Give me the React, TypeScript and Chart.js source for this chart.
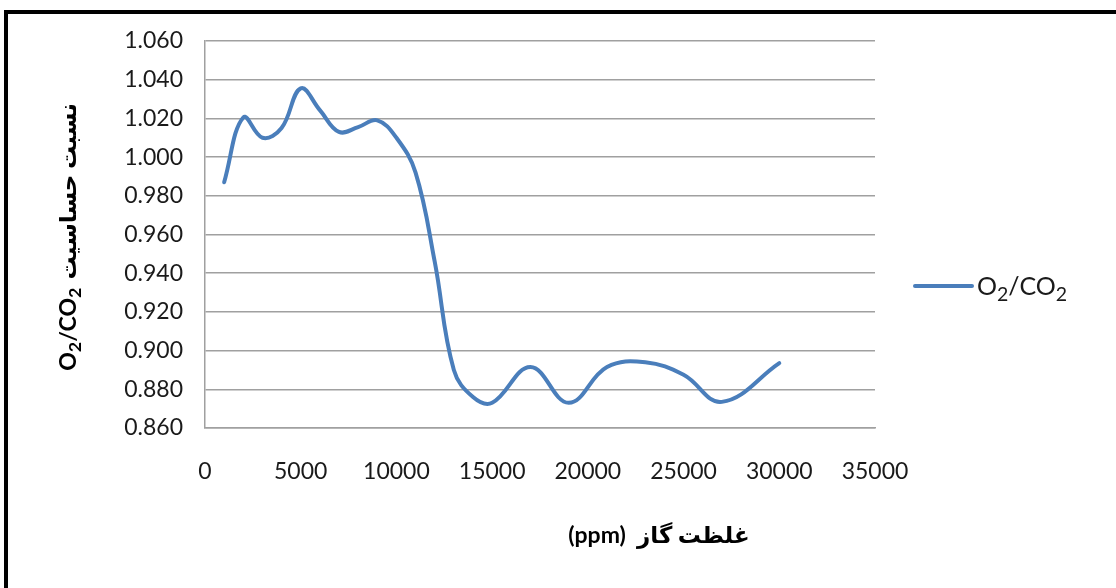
import React, { useEffect, useRef } from "react";
import { Chart, registerables } from "chart.js";

Chart.register(...registerables);

const xValues = [1000, 2000, 3000, 4000, 5000, 6000, 7000, 8000, 9000, 10000, 11000, 12000, 13000, 14000, 15000, 17000, 19000, 21000, 23000, 25000, 27000, 30000];
const yValues = [0.987, 1.0205, 1.010, 1.015, 1.0355, 1.0243, 1.013, 1.0155, 1.019, 1.010, 0.992, 0.946, 0.890, 0.876, 0.873, 0.8915, 0.873, 0.8915, 0.894, 0.8875, 0.8735, 0.8935];
const seriesName = [{ t: "O" }, { t: "2", sub: true }, { t: "/CO" }, { t: "2", sub: true }];
const yTitlePersian = "نسبت حساسیت";
const xTitleText = "(ppm)  غلظت گاز";

const FONT = "Lato, 'DejaVu Sans', sans-serif";

type Seg = { t: string; sub?: boolean };

function richWidth(ctx: CanvasRenderingContext2D, segs: Seg[], size: number, weight: string) {
  let w = 0;
  for (const s of segs) {
    ctx.font = `${weight} ${s.sub ? size * 0.78 : size}px ${FONT}`;
    w += ctx.measureText(s.t).width;
  }
  return w;
}

function drawRich(ctx: CanvasRenderingContext2D, segs: Seg[], x: number, y: number, size: number, weight: string) {
  let cx = x;
  ctx.textAlign = "left";
  ctx.textBaseline = "alphabetic";
  for (const s of segs) {
    ctx.font = `${weight} ${s.sub ? size * 0.78 : size}px ${FONT}`;
    ctx.fillText(s.t, cx, s.sub ? y + size * 0.22 : y);
    cx += ctx.measureText(s.t).width;
  }
  return cx;
}

const decorPlugin = {
  id: "decor",
  afterDraw(chart: any) {
    const ctx: CanvasRenderingContext2D = chart.ctx;
    ctx.save();
    // frame (top and left)
    ctx.fillStyle = "#000";
    ctx.fillRect(4, 10, 1112, 4);
    ctx.fillRect(4, 10, 4, 578);

    // legend
    ctx.strokeStyle = "#4A7EBB";
    ctx.lineWidth = 4;
    ctx.lineCap = "round";
    ctx.beginPath();
    ctx.moveTo(915, 286);
    ctx.lineTo(972, 286);
    ctx.stroke();
    ctx.fillStyle = "#1a1a1a";
    drawRich(ctx, seriesName, 977, 295, 25, "normal");

    // x title
    ctx.font = `bold 23px ${FONT}`;
    ctx.textAlign = "center";
    ctx.textBaseline = "middle";
    ctx.direction = "ltr";
    ctx.fillStyle = "#000";
    ctx.fillText(xTitleText, 659, 536);

    // y title (rotated)
    ctx.save();
    ctx.translate(68, 237);
    ctx.rotate(-Math.PI / 2);
    const size = 23;
    const w1 = richWidth(ctx, seriesName, size, "bold");
    ctx.font = `bold ${size}px ${FONT}`;
    const gap = 8;
    const w2 = ctx.measureText(yTitlePersian).width;
    const total = w1 + gap + w2;
    const startX = -total / 2;
    const end = drawRich(ctx, seriesName, startX, 8, size, "bold");
    ctx.font = `bold ${size}px ${FONT}`;
    ctx.textAlign = "left";
    ctx.fillText(yTitlePersian, end + gap, 8);
    ctx.restore();

    ctx.restore();
  },
};

export default function App() {
  const ref = useRef<HTMLCanvasElement | null>(null);
  useEffect(() => {
    document.body.style.margin = "0";
    const canvas = ref.current!;
    const data = xValues.map((x, i) => ({ x, y: yValues[i] }));
    const chart = new Chart(canvas, {
      type: "scatter",
      data: {
        datasets: [
          {
            label: "O2/CO2",
            data,
            showLine: true,
            borderColor: "#4A7EBB",
            backgroundColor: "#4A7EBB",
            borderWidth: 4,
            pointRadius: 0,
            tension: 0.4,
            borderCapStyle: "round",
            borderJoinStyle: "round",
          } as any,
        ],
      },
      options: {
        responsive: false,
        animation: false,
        devicePixelRatio: 1,
        layout: { padding: { left: 0, top: 41, right: 241, bottom: 0 } },
        plugins: { legend: { display: false }, tooltip: { enabled: false } },
        scales: {
          x: {
            type: "linear",
            min: 0,
            max: 35000,
            grid: { display: false, drawTicks: false },
            border: { display: true, color: "#a0a0a0", width: 1.5 },
            ticks: {
              stepSize: 5000,
              padding: 30,
              color: "#1a1a1a",
              font: { family: FONT, size: 23 },
              callback: (v: any) => String(v),
            },
            afterFit: (s: any) => {
              s.height = 160;
            },
          },
          y: {
            type: "linear",
            min: 0.86,
            max: 1.06,
            grid: { color: "#a0a0a0", lineWidth: 1.5, drawTicks: false },
            border: { display: true, color: "#a0a0a0", width: 1.5 },
            ticks: {
              stepSize: 0.02,
              padding: 22,
              color: "#1a1a1a",
              font: { family: FONT, size: 23 },
              callback: (v: any) => Number(v).toFixed(3),
            },
            afterFit: (s: any) => {
              s.width = 205;
            },
          },
        },
      },
      plugins: [decorPlugin],
    });
    return () => chart.destroy();
  }, []);
  return <canvas ref={ref} width={1116} height={588} style={{ display: "block" }} />;
}
